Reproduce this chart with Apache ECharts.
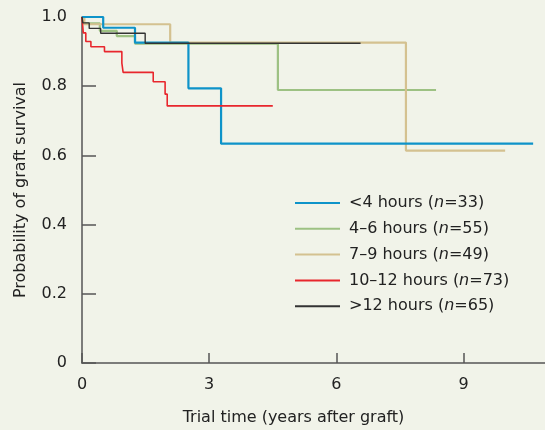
<!DOCTYPE html>
<html>
<head>
<meta charset="utf-8">
<title>Graft survival</title>
<script src="https://cdn.jsdelivr.net/npm/echarts@6/dist/echarts.min.js"></script>
<style>
	html, body { margin: 0; padding: 0; background: #f1f3e9; }
	#survivalChart { width: 545px; height: 430px; }
</style>
</head>
<body>
<div id="survivalChart"></div>
<script>
/**移植物生存曲线**/
// 各组名称、样本数
var groupNames = ['<4 hours', '4–6 hours', '7–9 hours', '10–12 hours', '>12 hours'];
var groupN = [33, 55, 49, 73, 65];
var groupColors = ['#0e93c9', '#9dc183', '#d4c190', '#e8262d', '#333333'];

// 时间(年) / 生存概率，读图估计
var under4Time = [0, 0.50, 1.25, 2.51, 3.28, 10.64];
var under4Surv = [1.0, 0.969, 0.926, 0.794, 0.634, 0.634];

var h4to6Time = [0, 0.05, 0.42, 0.82, 1.25, 4.62, 8.35];
var h4to6Surv = [1.0, 0.982, 0.960, 0.945, 0.923, 0.789, 0.789];

var h7to9Time = [0, 0.05, 2.08, 7.64, 9.98];
var h7to9Surv = [1.0, 0.979, 0.926, 0.614, 0.614];

var h10to12Time = [0, 0.03, 0.09, 0.21, 0.53, 0.94, 0.97, 1.68, 1.96, 2.01, 4.50];
var h10to12Surv = [1.0, 0.954, 0.929, 0.914, 0.900, 0.867, 0.840, 0.813, 0.777, 0.743, 0.743];

var over12Time = [0, 0.02, 0.17, 0.44, 1.49, 6.57];
var over12Surv = [1.0, 0.983, 0.967, 0.953, 0.924, 0.924];

var xTicks = [0, 3, 6, 9];
var yTicks = [0, 0.2, 0.4, 0.6, 0.8, 1.0];

var survivalChart = {
	init: function() {
		this.chart();
	},
	pairs: function(t, s) {
		var arr = [];
		for (var i = 0; i < t.length; i++) {
			arr.push([t[i], s[i]]);
		}
		return arr;
	},
	makeSeries: function(idx, t, s, width) {
		return {
			name: groupNames[idx],
			type: 'line',
			step: 'end',
			symbol: 'none',
			data: this.pairs(t, s),
			lineStyle: {
				color: groupColors[idx],
				width: width
			},
			itemStyle: {
				color: groupColors[idx]
			}
		};
	},
	chart: function() {
		var self = this;
		var myChart = echarts.init(document.getElementById('survivalChart'));
		var font = 'DejaVu Sans';
		// 画的先后：绿、黄、蓝、红、黑
		var series = [
			self.makeSeries(1, h4to6Time, h4to6Surv, 2.2),
			self.makeSeries(2, h7to9Time, h7to9Surv, 2.2),
			self.makeSeries(0, under4Time, under4Surv, 2.2),
			self.makeSeries(3, h10to12Time, h10to12Surv, 1.6),
			self.makeSeries(4, over12Time, over12Surv, 1.4)
		];
		var option = {
			backgroundColor: '#f1f3e9',
			animation: false,
			grid: {
				left: 82,
				right: 0,
				top: 17,
				bottom: 67,
				outerBoundsMode: 'none'
			},
			legend: {
				data: groupNames,
				orient: 'vertical',
				left: 290,
				top: 189,
				icon: 'rect',
				itemWidth: 45,
				itemHeight: 2,
				itemGap: 7.8,
				formatter: function(name) {
					var i = groupNames.indexOf(name);
					return name + ' ({i|n}=' + groupN[i] + ')';
				},
				textStyle: {
					fontFamily: font,
					fontSize: 16,
					lineHeight: 18,
					color: '#222',
					padding: [0, 0, 0, 4],
					rich: {
						i: {
							fontFamily: font,
							fontSize: 16,
							fontStyle: 'italic',
							color: '#222'
						}
					}
				}
			},
			xAxis: {
				type: 'value',
				min: 0,
				max: 10.92,
				interval: 3,
				name: 'Trial time (years after graft)',
				nameLocation: 'middle',
				nameGap: 47,
				nameTextStyle: {
					fontFamily: font,
					fontSize: 16,
					color: '#222',
					padding: [0, 40, 0, 0]
				},
				axisLine: {
					lineStyle: { color: '#555', width: 1.5 }
				},
				axisTick: {
					inside: true,
					length: 10,
					lineStyle: { color: '#555', width: 1.5 }
				},
				axisLabel: {
					margin: 14,
					fontFamily: font,
					fontSize: 16,
					color: '#222',
					showMaxLabel: false,
					formatter: function(v) {
						return xTicks.indexOf(v) >= 0 ? String(v) : '';
					}
				},
				splitLine: { show: false }
			},
			yAxis: {
				type: 'value',
				min: 0,
				max: 1,
				interval: 0.2,
				name: 'Probability of graft survival',
				nameLocation: 'middle',
				nameGap: 53,
				nameTextStyle: {
					fontFamily: font,
					fontSize: 16,
					color: '#222'
				},
				axisLine: {
					show: true,
					lineStyle: { color: '#555', width: 1.5 }
				},
				axisTick: {
					show: true,
					inside: true,
					length: 14,
					lineStyle: { color: '#555', width: 1.5 }
				},
				axisLabel: {
					margin: 15,
					fontFamily: font,
					fontSize: 16,
					color: '#222',
					formatter: function(v) {
						return v === 0 ? '0' : v.toFixed(1);
					}
				},
				splitLine: { show: false }
			},
			series: series
		};
		myChart.setOption(option, true);
	}
};
survivalChart.init();
</script>
</body>
</html>
